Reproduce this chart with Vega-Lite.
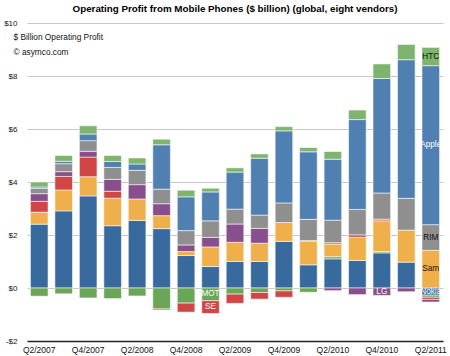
{
  "$schema": "https://vega.github.io/schema/vega-lite/v6.json",
  "width": 416,
  "height": 318,
  "autosize": "none",
  "padding": {"left": 27, "top": 23, "right": 7, "bottom": 15},
  "config": {"view": {"stroke": null}, "font": "Liberation Sans"},
  "title": {"text": "Operating Profit from Mobile Phones ($ billion) (global, eight vendors)", "fontSize": 9.8, "fontWeight": "bold", "font": "Liberation Sans", "color": "#000000", "anchor": "middle", "frame": "group", "offset": 5},
  "data": {"values": [
    {"q": "Q2/2007", "v": "Nokia", "p": 2.41}, {"q": "Q2/2007", "v": "MOT", "p": -0.31}, {"q": "Q2/2007", "v": "Sam", "p": 0.45}, {"q": "Q2/2007", "v": "SE", "p": 0.41}, {"q": "Q2/2007", "v": "LG", "p": 0.29}, {"q": "Q2/2007", "v": "RIM", "p": 0.2}, {"q": "Q2/2007", "v": "Apple", "p": 0.05}, {"q": "Q2/2007", "v": "HTC", "p": 0.19},
    {"q": "Q3/2007", "v": "Nokia", "p": 2.91}, {"q": "Q3/2007", "v": "MOT", "p": -0.22}, {"q": "Q3/2007", "v": "Sam", "p": 0.79}, {"q": "Q3/2007", "v": "SE", "p": 0.51}, {"q": "Q3/2007", "v": "LG", "p": 0.18}, {"q": "Q3/2007", "v": "RIM", "p": 0.3}, {"q": "Q3/2007", "v": "Apple", "p": 0.09}, {"q": "Q3/2007", "v": "HTC", "p": 0.22},
    {"q": "Q4/2007", "v": "Nokia", "p": 3.475}, {"q": "Q4/2007", "v": "MOT", "p": -0.375}, {"q": "Q4/2007", "v": "Sam", "p": 0.725}, {"q": "Q4/2007", "v": "SE", "p": 0.74}, {"q": "Q4/2007", "v": "LG", "p": 0.22}, {"q": "Q4/2007", "v": "RIM", "p": 0.4}, {"q": "Q4/2007", "v": "Apple", "p": 0.25}, {"q": "Q4/2007", "v": "HTC", "p": 0.31},
    {"q": "Q1/2008", "v": "Nokia", "p": 2.35}, {"q": "Q1/2008", "v": "MOT", "p": -0.4}, {"q": "Q1/2008", "v": "Sam", "p": 1.04}, {"q": "Q1/2008", "v": "SE", "p": 0.26}, {"q": "Q1/2008", "v": "LG", "p": 0.45}, {"q": "Q1/2008", "v": "RIM", "p": 0.45}, {"q": "Q1/2008", "v": "Apple", "p": 0.225}, {"q": "Q1/2008", "v": "HTC", "p": 0.225},
    {"q": "Q2/2008", "v": "Nokia", "p": 2.55}, {"q": "Q2/2008", "v": "MOT", "p": -0.3}, {"q": "Q2/2008", "v": "Sam", "p": 0.81}, {"q": "Q2/2008", "v": "LG", "p": 0.54}, {"q": "Q2/2008", "v": "RIM", "p": 0.54}, {"q": "Q2/2008", "v": "Apple", "p": 0.24}, {"q": "Q2/2008", "v": "HTC", "p": 0.225},
    {"q": "Q3/2008", "v": "Nokia", "p": 2.24}, {"q": "Q3/2008", "v": "MOT", "p": -0.79}, {"q": "Q3/2008", "v": "SE", "p": -0.04}, {"q": "Q3/2008", "v": "Sam", "p": 0.49}, {"q": "Q3/2008", "v": "LG", "p": 0.45}, {"q": "Q3/2008", "v": "RIM", "p": 0.55}, {"q": "Q3/2008", "v": "Apple", "p": 1.675}, {"q": "Q3/2008", "v": "HTC", "p": 0.21},
    {"q": "Q4/2008", "v": "Nokia", "p": 1.225}, {"q": "Q4/2008", "v": "MOT", "p": -0.57}, {"q": "Q4/2008", "v": "SE", "p": -0.34}, {"q": "Q4/2008", "v": "Sam", "p": 0.15}, {"q": "Q4/2008", "v": "LG", "p": 0.25}, {"q": "Q4/2008", "v": "RIM", "p": 0.54}, {"q": "Q4/2008", "v": "Apple", "p": 1.275}, {"q": "Q4/2008", "v": "HTC", "p": 0.25},
    {"q": "Q1/2009", "v": "Nokia", "p": 0.81}, {"q": "Q1/2009", "v": "MOT", "p": -0.48, "label": "MOT"}, {"q": "Q1/2009", "v": "SE", "p": -0.48, "label": "SE"}, {"q": "Q1/2009", "v": "Sam", "p": 0.74}, {"q": "Q1/2009", "v": "LG", "p": 0.36}, {"q": "Q1/2009", "v": "RIM", "p": 0.625}, {"q": "Q1/2009", "v": "Apple", "p": 1.09}, {"q": "Q1/2009", "v": "HTC", "p": 0.14},
    {"q": "Q2/2009", "v": "Nokia", "p": 1.0}, {"q": "Q2/2009", "v": "MOT", "p": -0.23}, {"q": "Q2/2009", "v": "SE", "p": -0.35}, {"q": "Q2/2009", "v": "Sam", "p": 0.725}, {"q": "Q2/2009", "v": "LG", "p": 0.69}, {"q": "Q2/2009", "v": "RIM", "p": 0.56}, {"q": "Q2/2009", "v": "Apple", "p": 1.4}, {"q": "Q2/2009", "v": "HTC", "p": 0.16},
    {"q": "Q3/2009", "v": "Nokia", "p": 1.0}, {"q": "Q3/2009", "v": "MOT", "p": -0.17}, {"q": "Q3/2009", "v": "SE", "p": -0.25}, {"q": "Q3/2009", "v": "Sam", "p": 0.69}, {"q": "Q3/2009", "v": "LG", "p": 0.56}, {"q": "Q3/2009", "v": "RIM", "p": 0.5}, {"q": "Q3/2009", "v": "Apple", "p": 2.15}, {"q": "Q3/2009", "v": "HTC", "p": 0.16},
    {"q": "Q4/2009", "v": "Nokia", "p": 1.76}, {"q": "Q4/2009", "v": "MOT", "p": -0.11}, {"q": "Q4/2009", "v": "SE", "p": -0.24}, {"q": "Q4/2009", "v": "Sam", "p": 0.71}, {"q": "Q4/2009", "v": "RIM", "p": 0.74}, {"q": "Q4/2009", "v": "Apple", "p": 2.72}, {"q": "Q4/2009", "v": "HTC", "p": 0.16},
    {"q": "Q1/2010", "v": "Nokia", "p": 0.875}, {"q": "Q1/2010", "v": "MOT", "p": -0.16}, {"q": "Q1/2010", "v": "Sam", "p": 0.885}, {"q": "Q1/2010", "v": "LG", "p": 0.03}, {"q": "Q1/2010", "v": "RIM", "p": 0.8}, {"q": "Q1/2010", "v": "Apple", "p": 2.55}, {"q": "Q1/2010", "v": "HTC", "p": 0.16},
    {"q": "Q2/2010", "v": "Nokia", "p": 1.1}, {"q": "Q2/2010", "v": "MOT", "p": 0.08}, {"q": "Q2/2010", "v": "Sam", "p": 0.48}, {"q": "Q2/2010", "v": "SE", "p": 0.05}, {"q": "Q2/2010", "v": "LG", "p": -0.1}, {"q": "Q2/2010", "v": "RIM", "p": 0.85}, {"q": "Q2/2010", "v": "Apple", "p": 2.3}, {"q": "Q2/2010", "v": "HTC", "p": 0.29},
    {"q": "Q3/2010", "v": "Nokia", "p": 1.04}, {"q": "Q3/2010", "v": "Sam", "p": 0.875}, {"q": "Q3/2010", "v": "SE", "p": 0.09}, {"q": "Q3/2010", "v": "LG", "p": -0.25}, {"q": "Q3/2010", "v": "RIM", "p": 0.96}, {"q": "Q3/2010", "v": "Apple", "p": 3.39}, {"q": "Q3/2010", "v": "HTC", "p": 0.36},
    {"q": "Q4/2010", "v": "Nokia", "p": 1.325}, {"q": "Q4/2010", "v": "MOT", "p": 0.05}, {"q": "Q4/2010", "v": "Sam", "p": 1.16}, {"q": "Q4/2010", "v": "SE", "p": 0.06}, {"q": "Q4/2010", "v": "LG", "p": -0.28, "label": "LG"}, {"q": "Q4/2010", "v": "RIM", "p": 0.99}, {"q": "Q4/2010", "v": "Apple", "p": 4.32}, {"q": "Q4/2010", "v": "HTC", "p": 0.55},
    {"q": "Q1/2011", "v": "Nokia", "p": 0.975}, {"q": "Q1/2011", "v": "Sam", "p": 1.21}, {"q": "Q1/2011", "v": "LG", "p": -0.14}, {"q": "Q1/2011", "v": "RIM", "p": 1.2}, {"q": "Q1/2011", "v": "Apple", "p": 5.23}, {"q": "Q1/2011", "v": "HTC", "p": 0.575},
    {"q": "Q2/2011", "v": "Nokia", "p": -0.27, "label": "Nokia"}, {"q": "Q2/2011", "v": "MOT", "p": -0.08}, {"q": "Q2/2011", "v": "SE", "p": -0.08}, {"q": "Q2/2011", "v": "LG", "p": -0.1}, {"q": "Q2/2011", "v": "Sam", "p": 1.42, "label": "Sam"}, {"q": "Q2/2011", "v": "RIM", "p": 0.97, "label": "RIM"}, {"q": "Q2/2011", "v": "Apple", "p": 6.0, "label": "Apple"}, {"q": "Q2/2011", "v": "HTC", "p": 0.69, "label": "HTC"}
  ]},
  "transform": [
    {"calculate": "indexof(['Nokia','MOT','Sam','SE','LG','RIM','Apple','HTC'], datum.v)", "as": "rank"},
    {"stack": "p", "groupby": ["q"], "sort": [{"field": "rank", "order": "ascending"}], "as": ["y0", "y1"]},
    {"calculate": "(datum.y0 + datum.y1) / 2", "as": "ym"}
  ],
  "encoding": {
    "x": {
      "field": "q", "type": "ordinal",
      "sort": ["Q2/2007","Q3/2007","Q4/2007","Q1/2008","Q2/2008","Q3/2008","Q4/2008","Q1/2009","Q2/2009","Q3/2009","Q4/2009","Q1/2010","Q2/2010","Q3/2010","Q4/2010","Q1/2011","Q2/2011"],
      "scale": {"paddingInner": 0.28, "paddingOuter": 0.14},
      "axis": {"title": null, "values": ["Q2/2007","Q4/2007","Q2/2008","Q4/2008","Q2/2009","Q4/2009","Q2/2010","Q4/2010","Q2/2011"], "labelAngle": 0, "labelFontSize": 8.5, "labelColor": "#111111", "labelPadding": 4, "ticks": false, "domainColor": "#222222", "domainWidth": 1.3, "labelFont": "Liberation Sans"}
    }
  },
  "layer": [
    {
      "mark": {"type": "bar", "stroke": "#ffffff", "strokeWidth": 0.8, "strokeOpacity": 0.7},
      "encoding": {
        "y": {"field": "y0", "type": "quantitative", "scale": {"domain": [-2, 10], "nice": false},
          "axis": {"values": [-2, 0, 2, 4, 6, 8, 10], "labelExpr": "datum.value < 0 ? '-$' + abs(datum.value) : '$' + datum.value", "labelFontSize": 8, "labelColor": "#111111", "labelPadding": 10, "ticks": false, "domain": false, "gridColor": "#c8c8c8", "gridWidth": 1,
            "title": ["$ Billion Operating Profit", "© asymco.com"], "titleAngle": 0, "titleAlign": "left", "titleBaseline": "top", "titleX": -14, "titleY": 9, "titleFontSize": 8.3, "titleFontWeight": "normal", "titleLineHeight": 15, "titleColor": "#111111", "titleFont": "Liberation Sans", "labelFont": "Liberation Sans"}},
        "y2": {"field": "y1"},
        "color": {"field": "v", "type": "nominal", "legend": null,
          "scale": {"domain": ["Nokia","MOT","Sam","SE","LG","RIM","Apple","HTC"], "range": ["#396a9e","#6aa657","#efb04b","#d14645","#874f8c","#8f8f8f","#5080b2","#7eb46d"]}}
      }
    },
    {
      "transform": [{"filter": "datum.label"}],
      "mark": {"type": "text", "fontSize": 8.2, "font": "Liberation Sans"},
      "encoding": {
        "y": {"field": "ym", "type": "quantitative"},
        "text": {"field": "label"},
        "color": {"condition": {"test": "indexof(['Sam','RIM','HTC'], datum.v) >= 0", "value": "#111111"}, "value": "#ffffff"}
      }
    }
  ]
}
